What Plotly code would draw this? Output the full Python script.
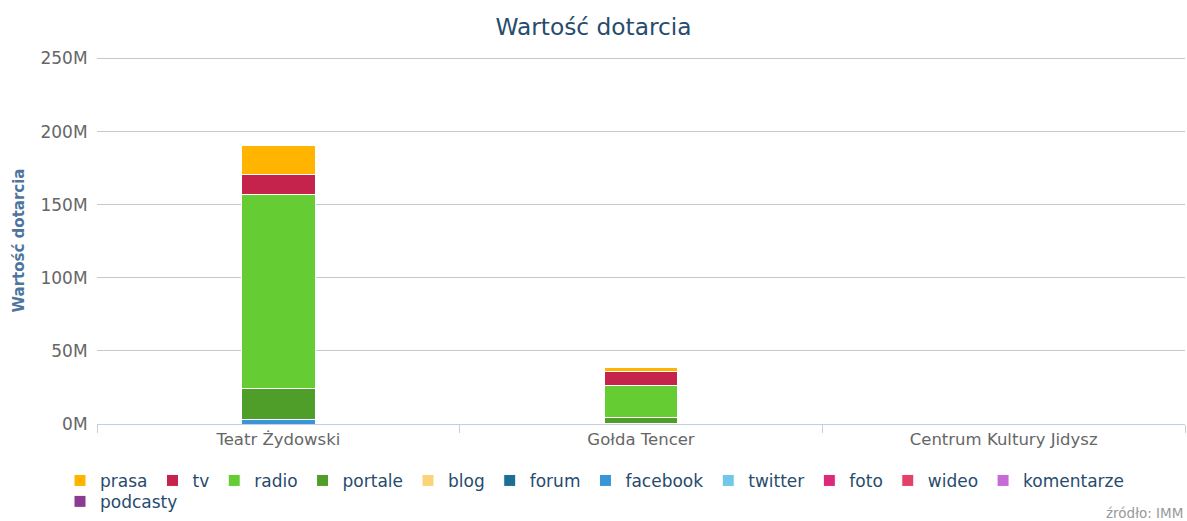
import plotly.graph_objects as go

categories = ["Teatr Żydowski", "Gołda Tencer", "Centrum Kultury Jidysz"]

series_names = ["prasa", "tv", "radio", "portale", "blog", "forum", "facebook",
                "twitter", "foto", "wideo", "komentarze", "podcasty"]

prasa = [19.8, 2.6, 0]
tv = [13.5, 9.6, 0]
radio = [132.5, 21.8, 0]
portale = [21.5, 4.0, 0]
blog = [0, 0, 0]
forum = [0, 0, 0]
facebook = [3.0, 0.5, 0]
twitter = [0, 0, 0]
foto = [0, 0, 0]
wideo = [0, 0, 0]
komentarze = [0, 0, 0]
podcasty = [0, 0, 0]

values = [prasa, tv, radio, portale, blog, forum, facebook,
          twitter, foto, wideo, komentarze, podcasty]

colors = ["#ffb400", "#c6234c", "#66cc33", "#4f9e2a", "#fbd378", "#1d6e93",
          "#3a95d6", "#72c6e8", "#dc2a78", "#e3416a", "#c66bd6", "#8b3a8e"]

tick_vals = [0, 50, 100, 150, 200, 250]
tick_text = ["0M", "50M", "100M", "150M", "200M", "250M"]

fig = go.Figure()
# bottom-most series first so that stacking puts "prasa" on top
for name, vals, col in reversed(list(zip(series_names, values, colors))):
    fig.add_trace(go.Bar(
        name=name, x=categories, y=vals,
        marker=dict(color=col, line=dict(color="white", width=1)),
        legend="legend2" if name == "podcasty" else "legend",
    ))

legend_font = dict(size=17, color="#274b6d")

fig.update_layout(
    width=1187, height=521,
    barmode="stack",
    bargap=0.796,
    plot_bgcolor="white", paper_bgcolor="white",
    font=dict(family="DejaVu Sans", color="#666666"),
    margin=dict(l=97, r=2, t=57, b=97, autoexpand=False),
    title=dict(text="Wartość dotarcia", x=0.5, xanchor="center", y=0.948, yanchor="middle",
               font=dict(size=23.3, color="#274b6d", family="DejaVu Sans")),
    legend=dict(orientation="h", traceorder="reversed", x=-0.034, xanchor="left",
                y=-0.106, yanchor="top", font=legend_font, bgcolor="rgba(0,0,0,0)",
                tracegroupgap=0, itemwidth=30),
    legend2=dict(orientation="h", x=-0.034, xanchor="left",
                 y=-0.163, yanchor="top", font=legend_font, bgcolor="rgba(0,0,0,0)",
                 tracegroupgap=0, itemwidth=30),
    showlegend=True,
)

fig.update_yaxes(
    range=[0, 251], tickvals=tick_vals, ticktext=tick_text,
    showgrid=True, gridcolor="#c8c8c8", gridwidth=1, zeroline=False,
    tickfont=dict(size=17, color="#666666"), ticks="outside", ticklen=5,
    tickcolor="rgba(0,0,0,0)",
    title=dict(text="<b>Wartość dotarcia</b>", font=dict(size=15, color="#4d759e"), standoff=12),
)
fig.update_xaxes(
    showline=True, linecolor="#c0d0e0", linewidth=1,
    tickfont=dict(size=16.5, color="#666666"),
    ticks="outside", ticklen=8, tickcolor="#c0d0e0", tickson="boundaries",
    showgrid=False,
)

fig.add_annotation(text="źródło: IMM", xref="paper", yref="paper", x=1.0, y=-0.243,
                   xanchor="right", yanchor="middle", showarrow=False,
                   font=dict(size=13.5, color="#999999"))

fig.write_html(
    "out.html",
    config={"displayModeBar": False},
    post_script="document.body.style.margin='0';document.body.style.overflow='hidden';",
)
